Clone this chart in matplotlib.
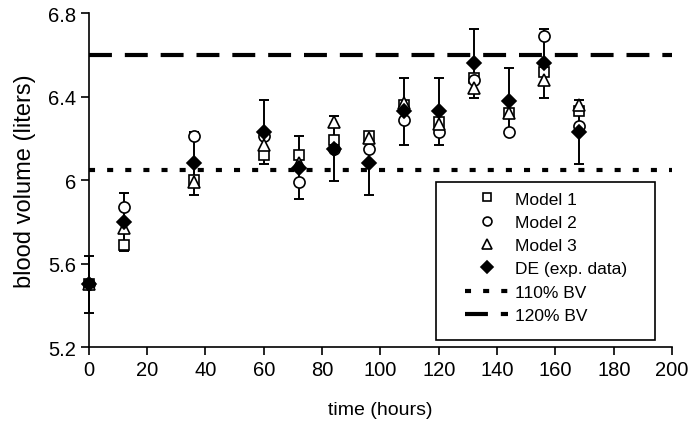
import matplotlib.pyplot as plt
import numpy as np
from matplotlib.patches import Rectangle

plt.rcParams['font.family'] = ['Liberation Sans', 'DejaVu Sans']

time = [0, 12, 36, 60, 72, 84, 96, 108, 120, 132, 144, 156, 168]
model1 = [5.50, 5.69, 6.00, 6.12, 6.12, 6.19, 6.21, 6.36, 6.28, 6.49, 6.32, 6.52, 6.33]
model2 = [5.50, 5.87, 6.21, 6.21, 5.99, 6.15, 6.15, 6.29, 6.23, 6.48, 6.23, 6.69, 6.26]
model3 = [5.50, 5.77, 5.99, 6.17, 6.08, 6.28, 6.20, 6.37, 6.27, 6.44, 6.32, 6.48, 6.36]
de_data = [5.50, 5.80, 6.08, 6.23, 6.06, 6.15, 6.08, 6.33, 6.33, 6.56, 6.38, 6.56, 6.23]
de_err = [0.135, 0.14, 0.15, 0.155, 0.15, 0.155, 0.15, 0.16, 0.16, 0.165, 0.155, 0.165, 0.155]
bv110 = 6.05
bv120 = 6.6

fig = plt.figure(figsize=(6.88, 4.27), dpi=100)
ax = fig.add_axes([0.129, 0.185, 0.848, 0.782])

ax.axhline(bv110, color='black', lw=3, dashes=(1.45, 2.9), label='110% BV', zorder=1)
ax.axhline(bv120, color='black', lw=3, dashes=(5.5, 3.1), label='120% BV', zorder=1)

eb = ax.errorbar(time, de_data, yerr=de_err, fmt='none', ecolor='black', elinewidth=1.4,
                 capsize=3.5, capthick=1.4, zorder=2)
for art in eb.lines[1] + eb.lines[2]:
    art.set_clip_on(False)

mk = dict(mec='black', mew=1.2, ls='none', clip_on=False)
ax.plot(time, model1, 's', ms=7.5, mfc='white', label='Model 1', zorder=3, **mk)
ax.plot(time, model2, 'o', ms=8, mfc='white', label='Model 2', zorder=3, **mk)
ax.plot(time, model3, '^', ms=8.5, mfc='white', label='Model 3', zorder=3, **mk)
ax.plot(time, de_data, 'D', ms=7.5, mfc='black', label='DE (exp. data)', zorder=4, **mk)

ax.set_xlim(0, 200)
ax.set_ylim(5.2, 6.8)
ax.set_xticks(np.arange(0, 201, 20))
ax.set_yticks([5.2, 5.6, 6.0, 6.4, 6.8])
ax.set_yticklabels(['5.2', '5.6', '6', '6.4', '6.8'])
ax.tick_params(direction='out', length=6, width=1.2, labelsize=14.5, pad=3)
for s in ['top', 'right']:
    ax.spines[s].set_visible(False)
ax.spines['left'].set_linewidth(1.2)
ax.spines['bottom'].set_linewidth(1.2)

ax.set_xlabel('time (hours)', fontsize=14, labelpad=16)
ax.set_ylabel('blood volume (liters)', fontsize=17, labelpad=9)

# legend frame drawn separately (wide side padding as in the original)
ax.add_patch(Rectangle((0.595, 0.021), 0.375, 0.473, transform=ax.transAxes,
                       fill=True, fc='white', ec='black', lw=1.2, zorder=5, clip_on=False))

h, l = ax.get_legend_handles_labels()
order = [2, 3, 4, 5, 0, 1]
leg = ax.legend([h[i] for i in order], [l[i] for i in order], loc='upper left',
                bbox_to_anchor=(0.645, 0.466), fontsize=12.5, frameon=False,
                handlelength=2.5, handletextpad=0.4, labelspacing=0.47,
                borderpad=0, borderaxespad=0, markerscale=0.8)
leg.set_zorder(6)

fig.savefig('out.png', dpi=100)
